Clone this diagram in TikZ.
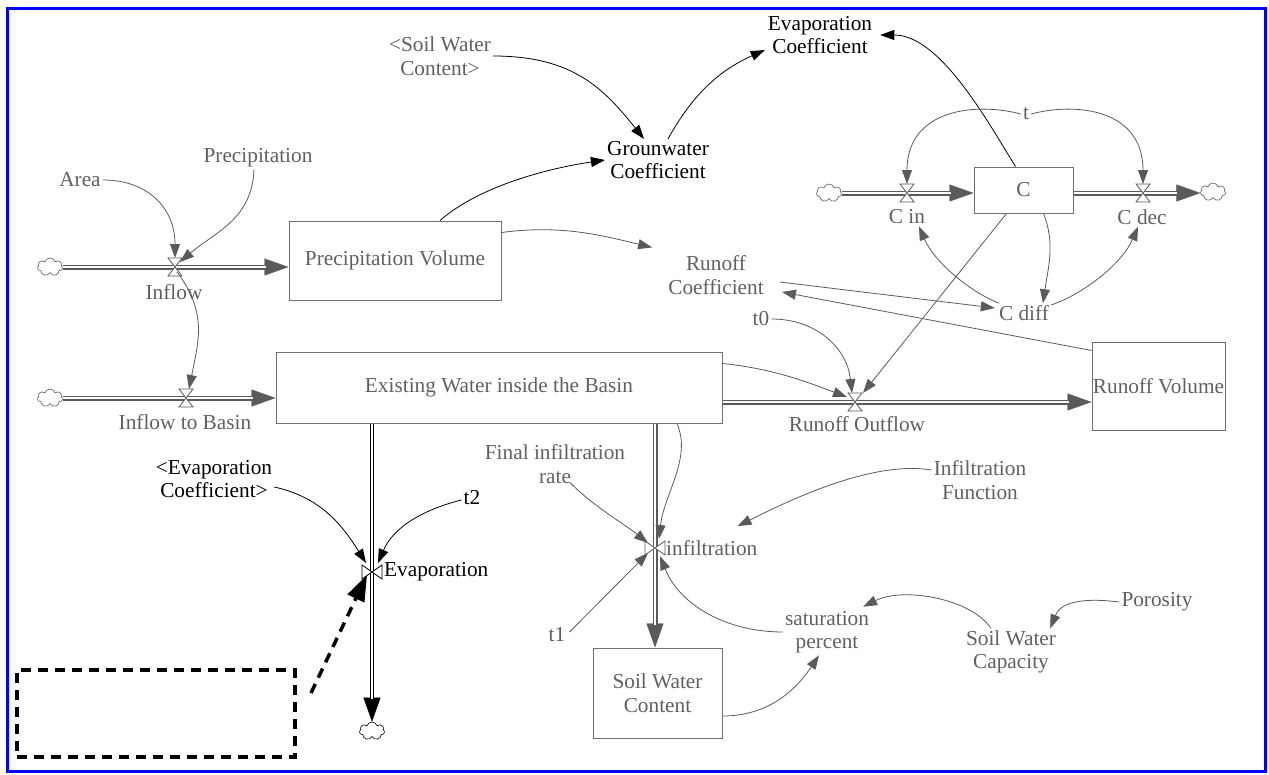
\documentclass[tikz,border=0pt]{standalone}
\usepackage{fontspec}
\setmainfont{Liberation Serif}
\usetikzlibrary{arrows.meta,calc,shapes.symbols}
\definecolor{txtgray}{RGB}{96,96,96}
\definecolor{lngray}{RGB}{90,90,90}
\definecolor{boxgray}{RGB}{112,112,112}
\definecolor{frameblue}{RGB}{0,0,255}
\tikzset{
  hvalve/.pic={\draw[draw=lngray, fill=white, line width=0.8pt] (-7,-9) -- (7,-9) -- (-7,9) -- (7,9) -- cycle;},
  vvalveg/.pic={\draw[draw=lngray, fill=white, line width=0.8pt] (-10,-7) -- (-10,7) -- (10,-7) -- (10,7) -- cycle;},
  vvalveb/.pic={\draw[draw=black, fill=white, line width=0.8pt] (-10,-7) -- (-10,7) -- (10,-7) -- (10,7) -- cycle;}
}
\begin{document}
\begin{tikzpicture}[x=1pt,y=-1pt,
  every node/.style={font=\fontsize{21.3}{23.5}\selectfont},
  var/.style={text=txtgray, align=center, inner sep=2pt},
  varb/.style={text=black, align=center, inner sep=2pt},
  stock/.style={draw=boxgray, line width=1pt, fill=white, text=txtgray, align=center, inner sep=0pt},
  cloudnode/.style={cloud, cloud puffs=7, cloud ignores aspect, draw=lngray, fill=white, line width=0.6pt, minimum width=25pt, minimum height=18pt, inner sep=0pt},
  pipe/.style={draw=lngray, line width=1.2pt, double=white, double distance=2.6pt, shorten >=23pt},
  pipeb/.style={draw=black, line width=1.1pt, double=white, double distance=2.6pt, shorten >=23pt},
  headg/.style={draw=lngray, line width=0.4pt, -{Triangle[length=24pt,width=17pt]}},
  headb/.style={draw=black, line width=0.4pt, -{Triangle[length=24pt,width=17pt]}},
  link/.style={draw=lngray, line width=0.8pt, -{Triangle[length=14pt,width=10pt]}},
  linkb/.style={draw=black, line width=0.8pt, -{Triangle[length=14pt,width=10pt]}},
  dashedge/.style={draw=black, line width=3.5pt, dash pattern=on 10pt off 7pt}
]
\useasboundingbox (0,0) rectangle (1269,774);
\draw[frameblue, line width=3pt] (7.5,8.5) rectangle (1265,771);

% stocks
\node[stock, minimum width=212pt, minimum height=79pt] (pv) at (395,260.5) {Precipitation Volume};
\node[stock, minimum width=446pt, minimum height=71pt] (ew) at (499,387.5) {Existing Water inside the Basin};
\node[stock, minimum width=133pt, minimum height=88pt] (rv) at (1158.5,386) {Runoff Volume};
\node[stock, minimum width=99pt, minimum height=46pt] (cbox) at (1023.5,190) {C};
\node[stock, minimum width=129pt, minimum height=90pt] (swc) at (657.5,693) {Soil Water\\Content};

% sources and sinks
\node[cloudnode] (cl1) at (50,267) {};
\node[cloudnode] (cl2) at (50,398) {};
\node[cloudnode] (cl3) at (829,193) {};
\node[cloudnode] (cl4) at (1213,192) {};
\node[cloudnode, draw=black] (cl5) at (372,731) {};

% valve positions
\coordinate (vinflow) at (175,267);
\coordinate (vbasin) at (186,398);
\coordinate (vrunoff) at (855,402);
\coordinate (vcin) at (907,193);
\coordinate (vcdec) at (1143,193);
\coordinate (vevap) at (372,572);
\coordinate (vinf) at (655,548);

% flow pipes
\draw[headg] (cl1.east) -- (cl1.east -| pv.west);
\draw[pipe] (cl1.east) -- (cl1.east -| pv.west);
\draw[headg] (cl2.east) -- (cl2.east -| ew.west);
\draw[pipe] (cl2.east) -- (cl2.east -| ew.west);
\draw[headg] (ew.east |- vrunoff) -- (vrunoff -| rv.west);
\draw[pipe] (ew.east |- vrunoff) -- (vrunoff -| rv.west);
\draw[headg] (cl3.east) -- (cl3.east -| cbox.west);
\draw[pipe] (cl3.east) -- (cl3.east -| cbox.west);
\draw[headg] (cbox.east |- vcdec) -- (vcdec -| cl4.west);
\draw[pipe] (cbox.east |- vcdec) -- (vcdec -| cl4.west);
\draw[headb] (ew.south -| vevap) -- (cl5.north);
\draw[pipeb] (ew.south -| vevap) -- (cl5.north);
\draw[headg] (ew.south -| vinf) -- (vinf |- swc.north);
\draw[pipe] (ew.south -| vinf) -- (vinf |- swc.north);

% valves
\pic at (vinflow) {hvalve};
\pic at (vbasin) {hvalve};
\pic at (vrunoff) {hvalve};
\pic at (vcin) {hvalve};
\pic at (vcdec) {hvalve};
\pic at (vevap) {vvalveb};
\pic at (vinf) {vvalveg};

% flow labels
\node[var] (inflowl) at (174,292) {Inflow};
\node[var] (basinl) at (185,422) {Inflow to Basin};
\node[var] (runoffl) at (857,424) {Runoff Outflow};
\node[var] (cinl) at (907,217) {C in};
\node[var] (cdecl) at (1142,217) {C dec};
\node[varb, anchor=west] (evapl) at (382,572) {Evaporation};
\node[var, anchor=west] (infl) at (664,548) {infiltration};

% auxiliary variables
\node[var] (area) at (80,180) {Area};
\node[var] (precip) at (258,158) {Precipitation};
\node[var] (soilref) at (440,56) {\textless Soil Water\\Content\textgreater};
\node[varb] (evapc) at (820,35) {Evaporation\\Coefficient};
\node[varb] (ground) at (658,160) {Grounwater\\Coefficient};
\node[var] (runoffc) at (716,275) {Runoff\\Coefficient};
\node[var] (t) at (1026,114) {t};
\node[var] (cdiff) at (1024,313) {C diff};
\node[var] (t0) at (761,319) {t0};
\node[varb] (evref) at (214,479) {\textless Evaporation\\Coefficient\textgreater};
\node[varb] (t2) at (472,498) {t2};
\node[var] (fir) at (555,464) {Final infiltration\\rate};
\node[var] (inff) at (980,480) {Infiltration\\Function};
\node[var] (t1) at (557,635) {t1};
\node[var] (satp) at (827,632) {saturation\\percent};
\node[var] (swcap) at (1011,652) {Soil Water\\Capacity};
\node[var] (poro) at (1157,602) {Porosity};

% dashed callout
\node[dashedge, minimum width=278pt, minimum height=87pt] (dbox) at (156,713.5) {};
\coordinate (dstart) at (311,693);
\draw[dashedge, -{Triangle[length=26pt,width=18pt]}] (dstart) -- ($(vevap)+(-5,3)$);

% information links
\draw[link] (area.east) .. controls +(45,0) and +(0,-50) .. ($(vinflow)+(0,-9)$);
\draw[link] ($(precip.south)+(-4,0)$) .. controls +(-2,50) and +(35,-30) .. ($(vinflow)+(5,-5)$);
\draw[link] ($(vinflow)+(2,5)$) .. controls +(30,40) and +(10,-50) .. ($(vbasin)+(3,-9)$);
\draw[linkb] ($(pv.north)+(45,0)$) .. controls +(40,-35) and +(-55,8) .. (ground.west);
\draw[link] ($(pv.east)+(0,-28)$) .. controls +(60,-8) and +(-50,-12) .. ($(runoffc.north west)+(-14,-6)$);
\draw[linkb] (soilref.east) .. controls +(80,0) and +(-40,-50) .. ($(ground.north)+(-14,0)$);
\draw[linkb] ($(ground.north)+(10,0)$) .. controls +(25,-45) and +(-45,20) .. ($(evapc.south west)+(-1,-6)$);
\draw[linkb] ($(cbox.north)+(-8,0)$) .. controls +(-28,-45) and +(60,0) .. ($(evapc.east)+(6,0)$);
\draw[link] (t.west) .. controls +(-45,-12) and +(0,-75) .. ($(vcin)+(0,-9)$);
\draw[link] (t.east) .. controls +(45,-12) and +(0,-75) .. ($(vcdec)+(0,-9)$);
\draw[link] ($(cbox.south)+(20,0)$) .. controls +(12,30) and +(5,-35) .. ($(cdiff.north)+(19,0)$);
\draw[link] ($(cdiff.north west)+(2,0)$) .. controls +(-30,-12) and +(15,35) .. ($(cinl.south)+(12,0)$);
\draw[link] ($(cdiff.east)+(0,-8)$) .. controls +(35,-12) and +(-15,35) .. ($(cdecl.south)+(-4,0)$);
\draw[link] ($(runoffc.east)+(14,7)$) -- ($(cdiff.west)+(-2,-5)$);
\draw[link] ($(rv.north west)+(0,9)$) -- ($(runoffc.east)+(16,17)$);
\draw[link] ($(cbox.south)+(-17,0)$) -- ($(vrunoff)+(8,-9)$);
\draw[link] (t0.east) .. controls +(45,0) and +(-5,-45) .. ($(vrunoff)+(-3,-9)$);
\draw[link] ($(ew.east)+(0,-24)$) .. controls +(50,5) and +(-40,-15) .. ($(vrunoff)+(-8,-5)$);
\draw[linkb] ($(evref.east)+(0,8)$) .. controls +(45,10) and +(-25,-40) .. ($(vevap)+(-6,-9)$);
\draw[linkb] ($(t2.west)+(0,2)$) .. controls +(-40,10) and +(15,-35) .. ($(vevap)+(6,-9)$);
\draw[link] ($(fir.south)+(15,-3)$) .. controls +(25,25) and +(-25,-20) .. ($(vinf)+(-7,-5)$);
\draw[link] ($(t1.east)+(2,-3)$) -- ($(vinf)+(-7,5)$);
\draw[link] ($(ew.south)+(178,0)$) .. controls +(15,35) and +(5,-45) .. ($(vinf)+(4,-9)$);
\draw[link] ($(inff.west)+(0,-10)$) .. controls +(-60,-10) and +(50,-25) .. ($(infl.north east)+(-22,-12)$);
\draw[link] (satp.west) .. controls +(-55,0) and +(20,50) .. ($(vinf)+(5,8)$);
\draw[link] ($(swcap.north)+(-20,0)$) .. controls +(-20,-30) and +(40,-20) .. ($(satp.north east)+(-8,-2)$);
\draw[link] (poro.west) .. controls +(-40,-5) and +(10,-25) .. ($(swcap.north east)+(-8,0)$);
\draw[link] ($(swc.east)+(0,23)$) .. controls +(50,0) and +(-20,30) .. ($(satp.south)+(-8,0)$);
\end{tikzpicture}
\end{document}
